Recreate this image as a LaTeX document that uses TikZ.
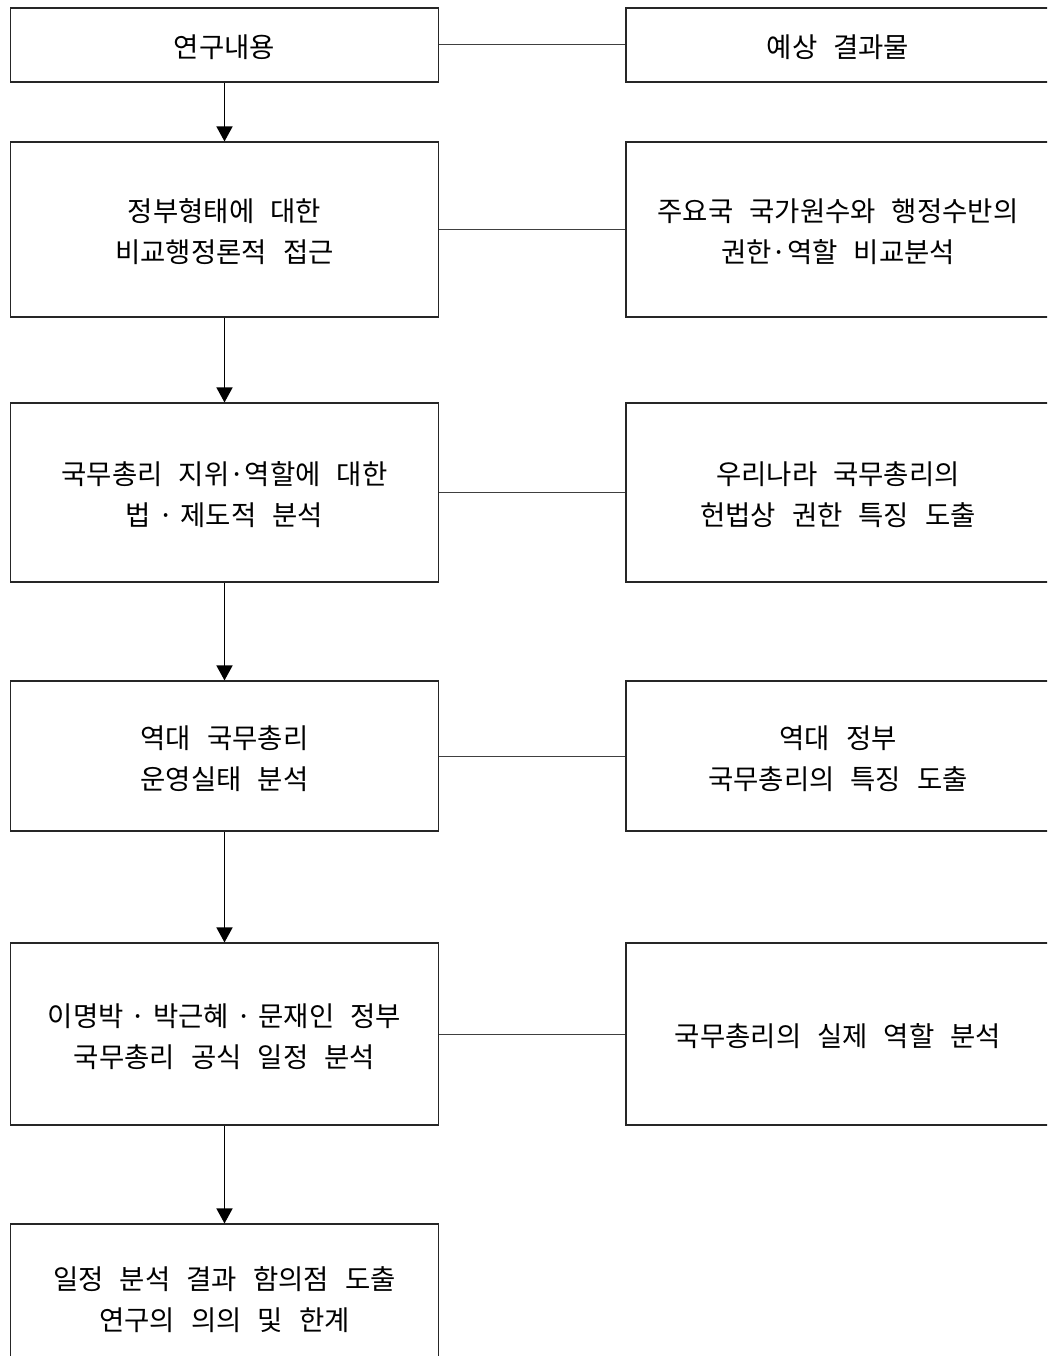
\documentclass[tikz,border=0pt]{standalone}
\usepackage{fontspec}
\setmainfont[WordSpace=2.6]{Noto Sans CJK KR}
\usetikzlibrary{arrows.meta}
\newcommand{\dsp}{\hspace{7pt}}
\tikzset{
  box/.style={draw=black!85, line width=1.1pt, rectangle, inner sep=0pt},
  lbox/.style={box, minimum width=428pt},
  rbox/.style={box, minimum width=424pt},
  txt/.style={align=center, inner sep=0pt, yshift=-2.5pt,
    font=\fontsize{27.5pt}{41pt}\selectfont},
  link/.style={draw=black!75, line width=1pt},
  flow/.style={draw=black, line width=1.5pt, -{Triangle[length=15pt,width=16pt]}}
}
\begin{document}
\begin{tikzpicture}[x=1pt,y=-1pt]
\useasboundingbox (0,0) rectangle (1047,1356);
\clip (0,0) rectangle (1047,1356);
\fill[white] (0,0) rectangle (1047,1356);
% left column
\node[lbox, minimum height=74pt] (l1) at (224.5,45) {};
\node[lbox, minimum height=175pt] (l2) at (224.5,229.5) {};
\node[lbox, minimum height=179pt] (l3) at (224.5,492.5) {};
\node[lbox, minimum height=150pt] (l4) at (224.5,756) {};
\node[lbox, minimum height=182pt] (l5) at (224.5,1034) {};
\node[lbox, minimum height=146pt] (l6) at (224.5,1297) {};
\node[txt] (t1) at (l1) {연구내용};
\node[txt] (t2) at (l2) {정부형태에 대한\\비교행정론적 접근};
\node[txt] (t3) at (l3) {국무총리 지위·역할에 대한\\법\dsp{}·\dsp{}제도적 분석};
\node[txt] (t4) at (l4) {역대 국무총리\\운영실태 분석};
\node[txt] (t5) at (l5) {이명박\dsp{}·\dsp{}박근혜\dsp{}·\dsp{}문재인 정부\\국무총리 공식 일정 분석};
\node[txt] (t6) at (l6) {일정 분석 결과 함의점 도출\\연구의 의의 및 한계};
% right column
\node[rbox, minimum height=74pt] (r1) at (838,45) {};
\node[rbox, minimum height=175pt] (r2) at (838,229.5) {};
\node[rbox, minimum height=179pt] (r3) at (838,492.5) {};
\node[rbox, minimum height=150pt] (r4) at (838,756) {};
\node[rbox, minimum height=182pt] (r5) at (838,1034) {};
\node[txt] (u1) at (r1) {예상 결과물};
\node[txt] (u2) at (r2) {주요국 국가원수와 행정수반의\\권한·역할 비교분석};
\node[txt] (u3) at (r3) {우리나라 국무총리의\\헌법상 권한 특징 도출};
\node[txt] (u4) at (r4) {역대 정부\\국무총리의 특징 도출};
\node[txt] (u5) at (r5) {국무총리의 실제 역할 분석};
% links
\draw[link] (l1.east) -- (r1.west);
\draw[link] (l2.east) -- (r2.west);
\draw[link] (l3.east) -- (r3.west);
\draw[link] (l4.east) -- (r4.west);
\draw[link] (l5.east) -- (r5.west);
% flow
\draw[flow] (l1.south) -- (l2.north);
\draw[flow] (l2.south) -- (l3.north);
\draw[flow] (l3.south) -- (l4.north);
\draw[flow] (l4.south) -- (l5.north);
\draw[flow] (l5.south) -- (l6.north);
\end{tikzpicture}
\end{document}
